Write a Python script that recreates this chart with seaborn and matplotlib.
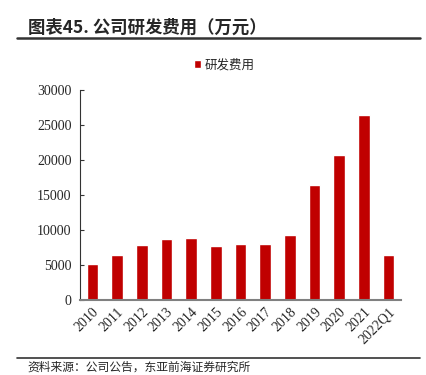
import matplotlib
matplotlib.use("Agg")
import matplotlib.pyplot as plt
import seaborn as sns

years = ["2010", "2011", "2012", "2013", "2014", "2015", "2016",
         "2017", "2018", "2019", "2020", "2021", "2022Q1"]
rd_cost = [5150, 6400, 7800, 8700, 8800, 7700, 7950,
           8050, 9330, 16480, 20710, 26480, 6480]
y_ticks = [0, 5000, 10000, 15000, 20000, 25000, 30000]

TITLE = "图表45. 公司研发费用（万元）"
LEGEND = "研发费用"
SOURCE = "资料来源：公司公告，东亚前海证券研究所"

sns.set_theme(style="white")
plt.rcParams["font.family"] = ["Noto Sans CJK SC", "DejaVu Sans"]

fig = plt.figure(figsize=(4.27, 3.75), dpi=100)
ax = fig.add_axes([80 / 427, 75 / 375, 321 / 427, 210 / 375])

sns.barplot(x=years, y=rd_cost, color="#C00000", width=0.47,
            saturation=1, label=LEGEND, ax=ax)

ax.set_xlim(-0.5, len(years) - 0.5)
ax.set_ylim(0, 30000)
ax.set_yticks(y_ticks)
ax.set_yticklabels([str(t) for t in y_ticks], family="Liberation Serif", fontsize=10)
ax.set_xticks(range(len(years)))
ax.set_xticklabels(years, family="Liberation Serif", fontsize=10,
                   rotation=45, ha="right", va="top", rotation_mode="anchor")
ax.tick_params(axis="y", direction="in", length=3, width=0.8, color="#333333", pad=6, left=True)
ax.tick_params(axis="x", length=0, pad=4)

for side in ["top", "right"]:
    ax.spines[side].set_visible(False)
ax.spines["left"].set_color("#333333")
ax.spines["left"].set_linewidth(0.8)
ax.spines["bottom"].set_color("#808080")
ax.spines["bottom"].set_linewidth(1.5)

# legend sits a bit left of the axes centre, as in the source
ax.legend(loc="center", bbox_to_anchor=(0.45, 1.12), frameon=False,
          fontsize=9, handlelength=0.6, handleheight=0.6, handletextpad=0.3)

fig.text(28 / 427, 1 - 28 / 375, TITLE, fontsize=12.5, fontweight="bold",
         ha="left", va="center")
fig.add_artist(plt.Line2D([17 / 427, 420 / 427], [1 - 38 / 375, 1 - 38 / 375],
                          color="#333333", linewidth=1.8))
fig.add_artist(plt.Line2D([17 / 427, 420 / 427], [1 - 358 / 375, 1 - 358 / 375],
                          color="#333333", linewidth=1.2))
fig.text(27 / 427, 1 - 367 / 375, SOURCE, fontsize=8.5, ha="left", va="center")

fig.savefig("out.png", dpi=100)
